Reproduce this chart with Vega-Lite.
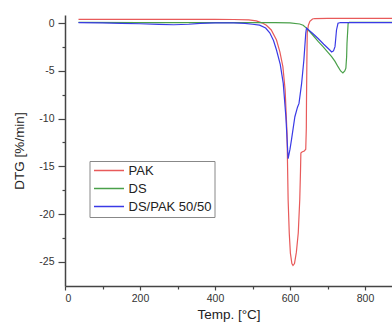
{
  "$schema": "https://vega.github.io/schema/vega-lite/v6.json",
  "width": 327,
  "height": 271,
  "autosize": {"type": "none"},
  "padding": {"left": 65, "top": 15, "right": 0, "bottom": 43},
  "background": "white",
  "config": {"view": {"stroke": null}, "font": "Liberation Sans"},
  "data": {"values": [
    {"series": "PAK", "t": 36, "dtg": 0.42},
    {"series": "PAK", "t": 200, "dtg": 0.42},
    {"series": "PAK", "t": 400, "dtg": 0.42},
    {"series": "PAK", "t": 450, "dtg": 0.4},
    {"series": "PAK", "t": 490, "dtg": 0.35},
    {"series": "PAK", "t": 510, "dtg": 0.25},
    {"series": "PAK", "t": 525, "dtg": 0.05},
    {"series": "PAK", "t": 537, "dtg": -0.2},
    {"series": "PAK", "t": 550, "dtg": -0.7},
    {"series": "PAK", "t": 564, "dtg": -1.75},
    {"series": "PAK", "t": 573, "dtg": -3.0},
    {"series": "PAK", "t": 581, "dtg": -4.55},
    {"series": "PAK", "t": 587, "dtg": -7.0},
    {"series": "PAK", "t": 592, "dtg": -11.5},
    {"series": "PAK", "t": 595, "dtg": -18.5},
    {"series": "PAK", "t": 598, "dtg": -22},
    {"series": "PAK", "t": 601, "dtg": -24.1},
    {"series": "PAK", "t": 605, "dtg": -25.2},
    {"series": "PAK", "t": 608, "dtg": -25.4},
    {"series": "PAK", "t": 612, "dtg": -25.2},
    {"series": "PAK", "t": 617, "dtg": -24.0},
    {"series": "PAK", "t": 622, "dtg": -22},
    {"series": "PAK", "t": 626, "dtg": -18.5},
    {"series": "PAK", "t": 628, "dtg": -15.5},
    {"series": "PAK", "t": 629, "dtg": -13.6},
    {"series": "PAK", "t": 632, "dtg": -13.5},
    {"series": "PAK", "t": 638, "dtg": -13.4},
    {"series": "PAK", "t": 642, "dtg": -13.2},
    {"series": "PAK", "t": 643.5, "dtg": -11},
    {"series": "PAK", "t": 644, "dtg": -8},
    {"series": "PAK", "t": 645, "dtg": -4},
    {"series": "PAK", "t": 646, "dtg": -1},
    {"series": "PAK", "t": 649, "dtg": -0.2},
    {"series": "PAK", "t": 653, "dtg": 0.2},
    {"series": "PAK", "t": 660, "dtg": 0.45},
    {"series": "PAK", "t": 666, "dtg": 0.5},
    {"series": "PAK", "t": 700, "dtg": 0.52},
    {"series": "PAK", "t": 872, "dtg": 0.52},
    {"series": "DS", "t": 36, "dtg": 0.1},
    {"series": "DS", "t": 200, "dtg": 0.08},
    {"series": "DS", "t": 400, "dtg": 0.06},
    {"series": "DS", "t": 500, "dtg": 0.07},
    {"series": "DS", "t": 560, "dtg": 0.07},
    {"series": "DS", "t": 600, "dtg": 0.05},
    {"series": "DS", "t": 626, "dtg": -0.07},
    {"series": "DS", "t": 635, "dtg": -0.2},
    {"series": "DS", "t": 644, "dtg": -0.5},
    {"series": "DS", "t": 660, "dtg": -1.2},
    {"series": "DS", "t": 675, "dtg": -1.9},
    {"series": "DS", "t": 688, "dtg": -2.45},
    {"series": "DS", "t": 700, "dtg": -3.0},
    {"series": "DS", "t": 711, "dtg": -3.5},
    {"series": "DS", "t": 720, "dtg": -4.0},
    {"series": "DS", "t": 728, "dtg": -4.55},
    {"series": "DS", "t": 735, "dtg": -5.0},
    {"series": "DS", "t": 741, "dtg": -5.2},
    {"series": "DS", "t": 746, "dtg": -5.0},
    {"series": "DS", "t": 749, "dtg": -4.7},
    {"series": "DS", "t": 751, "dtg": -3.5},
    {"series": "DS", "t": 752, "dtg": -2.1},
    {"series": "DS", "t": 754, "dtg": -0.7},
    {"series": "DS", "t": 755, "dtg": 0.0},
    {"series": "DS", "t": 758, "dtg": 0.1},
    {"series": "DS", "t": 872, "dtg": 0.1},
    {"series": "DS/PAK 50/50", "t": 36, "dtg": 0.06},
    {"series": "DS/PAK 50/50", "t": 100, "dtg": 0.05},
    {"series": "DS/PAK 50/50", "t": 150, "dtg": 0.0},
    {"series": "DS/PAK 50/50", "t": 200, "dtg": -0.05},
    {"series": "DS/PAK 50/50", "t": 250, "dtg": -0.12},
    {"series": "DS/PAK 50/50", "t": 290, "dtg": -0.15},
    {"series": "DS/PAK 50/50", "t": 330, "dtg": -0.1},
    {"series": "DS/PAK 50/50", "t": 360, "dtg": 0.0},
    {"series": "DS/PAK 50/50", "t": 400, "dtg": 0.05},
    {"series": "DS/PAK 50/50", "t": 450, "dtg": 0.05},
    {"series": "DS/PAK 50/50", "t": 480, "dtg": 0.0},
    {"series": "DS/PAK 50/50", "t": 500, "dtg": -0.1},
    {"series": "DS/PAK 50/50", "t": 519, "dtg": -0.2},
    {"series": "DS/PAK 50/50", "t": 535, "dtg": -0.5},
    {"series": "DS/PAK 50/50", "t": 546, "dtg": -1.0},
    {"series": "DS/PAK 50/50", "t": 556, "dtg": -1.8},
    {"series": "DS/PAK 50/50", "t": 564, "dtg": -2.8},
    {"series": "DS/PAK 50/50", "t": 574, "dtg": -4.3},
    {"series": "DS/PAK 50/50", "t": 582, "dtg": -6.3},
    {"series": "DS/PAK 50/50", "t": 589, "dtg": -9.8},
    {"series": "DS/PAK 50/50", "t": 592, "dtg": -12},
    {"series": "DS/PAK 50/50", "t": 595, "dtg": -14.2},
    {"series": "DS/PAK 50/50", "t": 600, "dtg": -13.2},
    {"series": "DS/PAK 50/50", "t": 604, "dtg": -12.2},
    {"series": "DS/PAK 50/50", "t": 613, "dtg": -9.8},
    {"series": "DS/PAK 50/50", "t": 620, "dtg": -8.8},
    {"series": "DS/PAK 50/50", "t": 624, "dtg": -8.4},
    {"series": "DS/PAK 50/50", "t": 631, "dtg": -6.3},
    {"series": "DS/PAK 50/50", "t": 637, "dtg": -3.85},
    {"series": "DS/PAK 50/50", "t": 642, "dtg": -1.05},
    {"series": "DS/PAK 50/50", "t": 644, "dtg": -0.5},
    {"series": "DS/PAK 50/50", "t": 660, "dtg": -1.05},
    {"series": "DS/PAK 50/50", "t": 675, "dtg": -1.6},
    {"series": "DS/PAK 50/50", "t": 690, "dtg": -2.2},
    {"series": "DS/PAK 50/50", "t": 706, "dtg": -2.8},
    {"series": "DS/PAK 50/50", "t": 711, "dtg": -3.0},
    {"series": "DS/PAK 50/50", "t": 716, "dtg": -2.9},
    {"series": "DS/PAK 50/50", "t": 720, "dtg": -2.45},
    {"series": "DS/PAK 50/50", "t": 722, "dtg": -1.6},
    {"series": "DS/PAK 50/50", "t": 724, "dtg": -0.7},
    {"series": "DS/PAK 50/50", "t": 728, "dtg": 0.0},
    {"series": "DS/PAK 50/50", "t": 735, "dtg": 0.08},
    {"series": "DS/PAK 50/50", "t": 872, "dtg": 0.08}
  ]},
  "layer": [
    {
      "mark": {"type": "line", "strokeWidth": 1.2, "clip": true},
      "encoding": {
        "x": {
          "field": "t", "type": "quantitative",
          "scale": {"domain": [0, 872], "nice": false, "zero": false},
          "axis": {
            "orient": "bottom", "values": [0, 200, 400, 600, 800], "grid": false,
            "tickSize": 4, "tickWidth": 1.2, "tickColor": "#444",
            "domainColor": "#444", "domainWidth": 1.5,
            "labelFontSize": 10.5, "labelColor": "#333", "labelPadding": 3,
            "title": "Temp. [°C]", "titleFontSize": 13.5, "titleFontWeight": "normal",
            "titleColor": "#222", "titlePadding": 4
          }
        },
        "y": {
          "field": "dtg", "type": "quantitative",
          "scale": {"domain": [-27.55, 0.87], "nice": false, "zero": false},
          "axis": {
            "orient": "left", "values": [0, -5, -10, -15, -20, -25], "grid": false,
            "labelExpr": "'' + datum.value",
            "tickSize": 7, "tickWidth": 1.2, "tickColor": "#444",
            "domainColor": "#444", "domainWidth": 1.5,
            "labelFontSize": 10.5, "labelColor": "#333", "labelPadding": 4,
            "title": "DTG [%/min]", "titleFontSize": 13.5, "titleFontWeight": "normal",
            "titleColor": "#222", "titlePadding": 12
          }
        },
        "color": {
          "field": "series", "type": "nominal",
          "scale": {"domain": ["PAK", "DS", "DS/PAK 50/50"], "range": ["#e85a5a", "#4aa04a", "#3a3ae6"]},
          "legend": {
            "orient": "none", "legendX": 24.5, "legendY": 146, "title": null,
            "symbolType": "M-1,0H5", "symbolSize": 100, "symbolStrokeWidth": 1.5,
            "labelFontSize": 13, "labelColor": "#222", "labelOffset": 23,
            "strokeColor": "#888", "fillColor": "white", "padding": 3, "rowPadding": 4
          }
        }
      }
    },
    {
      "mark": {"type": "point", "opacity": 0},
      "encoding": {
        "x": {
          "field": "t", "type": "quantitative",
          "scale": {"domain": [0, 872], "nice": false, "zero": false},
          "axis": {"orient": "bottom", "values": [100, 300, 500, 700], "grid": false, "labels": false, "domain": false, "title": null, "tickSize": 3, "tickWidth": 1.2, "tickColor": "#444"}
        },
        "y": {
          "field": "dtg", "type": "quantitative",
          "scale": {"domain": [-27.55, 0.87], "nice": false, "zero": false},
          "axis": {"orient": "left", "values": [-2.5, -7.5, -12.5, -17.5, -22.5], "grid": false, "labels": false, "domain": false, "title": null, "tickSize": 3, "tickWidth": 1.2, "tickColor": "#444"}
        }
      }
    }
  ],
  "resolve": {"axis": {"x": "independent", "y": "independent"}}
}
